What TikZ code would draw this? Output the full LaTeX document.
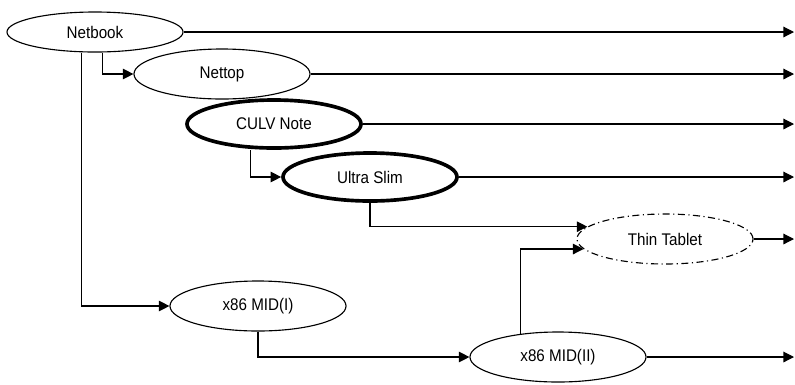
\documentclass[tikz,border=0pt]{standalone}
\usepackage{fontspec}
\setmainfont[FakeStretch=0.9]{Liberation Sans}
\usetikzlibrary{shapes.geometric, arrows.meta}

\begin{document}
\begin{tikzpicture}[x=0.025cm, y=-0.025cm, font=\fontsize{12}{14}\selectfont,
    form/.style={ellipse, draw, line width=0.8pt, minimum width=4.4cm, minimum height=1.25cm, inner sep=0pt},
    heavy/.style={line width=2.6pt, minimum width=4.35cm, minimum height=1.2cm},
    arr/.style={-{Triangle[length=7.5pt, width=7.5pt]}, line width=0.8pt}]
  \useasboundingbox (0,0) rectangle (795,384);
  \coordinate (rim) at (794,0);
  % the devices
  \node[form, minimum height=1.0cm] (netbook) at (95,32)  {Netbook};
  \node[form] (nettop) at (222,74)  {Nettop};
  \node[form, heavy] (culv)  at (274,124) {CULV Note};
  \node[form, heavy] (ultra) at (370,177) {Ultra Slim};
  \node[form, dash pattern=on 5pt off 2.5pt on 0.8pt off 2.5pt] (tablet) at (665,239) {Thin Tablet};
  \node[form] (midone) at (258,306) {x86 MID(I)};
  \node[form] (midtwo) at (558,357) {x86 MID(II)};
  % lines to the right edge
  \foreach \n in {netbook, nettop, culv, ultra, tablet, midtwo}
    \draw[arr] (\n.east) -- (\n.east -| rim);
  % branches
  \draw[arr] ([xshift=0.18cm]netbook.south) |- (nettop.west);
  \draw[arr] ([xshift=-0.33cm]netbook.south) |- (midone.west);
  \draw[arr] ([xshift=-0.58cm]culv.south) |- (ultra.west);
  \draw[arr] (ultra.south) |- (tablet.171);
  \draw[arr] (midone.south) |- (midtwo.west);
  \draw[arr] (midtwo.148) |- (tablet.187);
\end{tikzpicture}
\end{document}
